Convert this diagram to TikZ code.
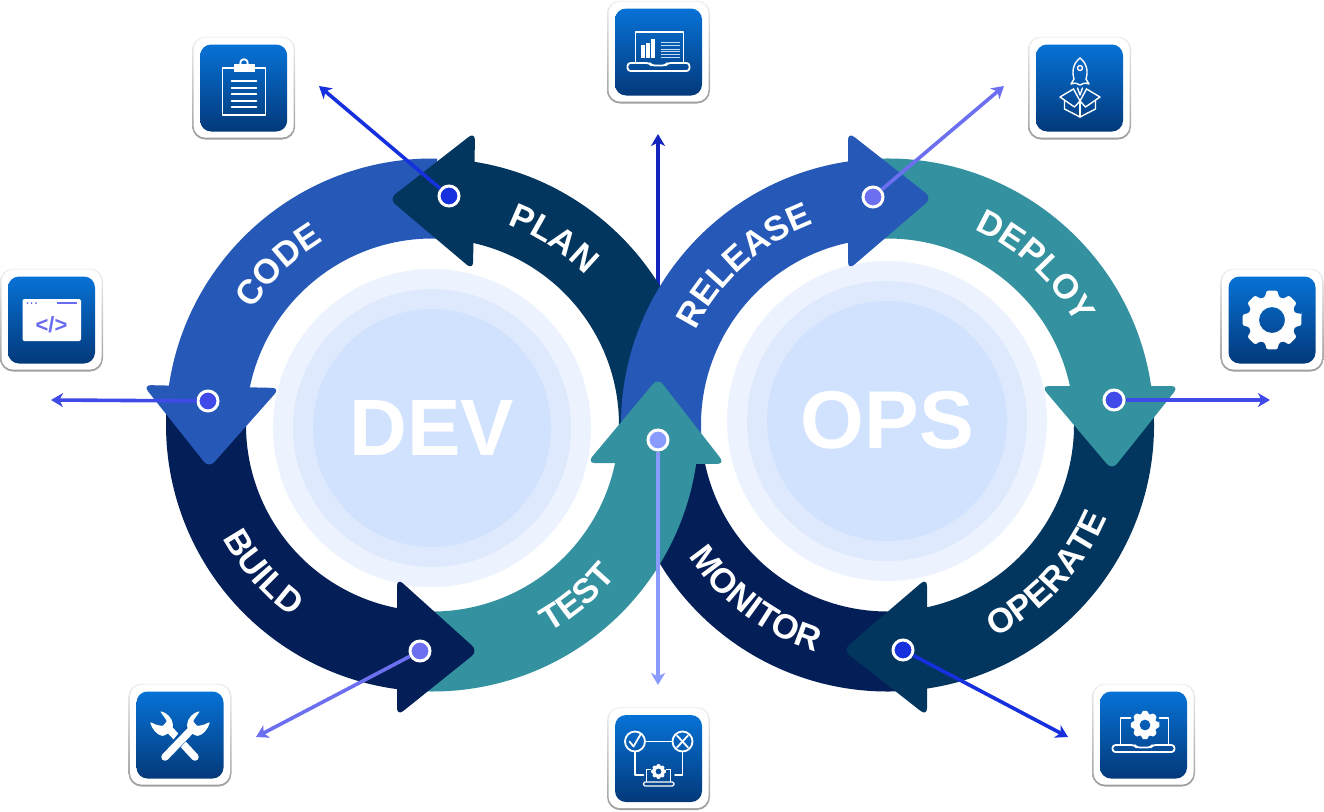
\documentclass[tikz,border=0pt]{standalone}
\usepackage{fontspec}
\setmainfont{Liberation Sans}
\usetikzlibrary{arrows.meta,decorations.text,calc}
\definecolor{cDark}{HTML}{03365F}
\definecolor{cBlue}{HTML}{2659B7}
\definecolor{cNavy}{HTML}{041F57}
\definecolor{cTeal}{HTML}{34919F}
\definecolor{cPaleA}{HTML}{EDF3FE}
\definecolor{cPaleB}{HTML}{DEE9FD}
\definecolor{cPaleC}{HTML}{D0E2FE}
\definecolor{aOne}{HTML}{1530DC}
\definecolor{aTwo}{HTML}{3F4AE8}
\definecolor{aThree}{HTML}{6B6FF0}
\definecolor{aFour}{HTML}{8A9BFF}
\definecolor{aTop}{HTML}{1424BE}
\definecolor{iconMid}{HTML}{0555A8}
\definecolor{iconViolet}{HTML}{6A6CF0}
\definecolor{cTop}{HTML}{0772D6}
\definecolor{cBot}{HTML}{03397A}
\tikzset{
  conn/.style={line width=3.6pt,-{Stealth[length=12pt,width=14pt,inset=3.5pt]}},
  dotn/.style={circle,draw=white,line width=3pt,minimum size=20pt,inner sep=0pt},
  outerbox/.style={rounded corners=13pt,minimum width=103pt,minimum height=103pt,inner sep=0pt,top color=black!6,bottom color=black!38},
  whitebox/.style={rounded corners=12pt,minimum width=100pt,minimum height=100pt,inner sep=0pt,fill=white},
  innerbox/.style={rounded corners=11pt,minimum width=87pt,minimum height=87pt,inner sep=0pt,top color=cTop,bottom color=cBot},
  ic/.style={draw=white,line width=1.8pt,line join=round,line cap=round},
  bandtext/.style={decorate,decoration={text along path,text align=center,
     text={|\fontsize{34.5pt}{34.5pt}\bfseries\color{white}|#1}}},
}
\newcommand{\bandseg}[5]{\fill[#5] ($(#1,#2)+(#3:266.5)$) arc[start angle=#3,end angle=#4,radius=266.5]
   -- ($(#1,#2)+(#4:186.5)$) arc[start angle=#4,end angle=#3,radius=186.5] -- cycle;}
\newcommand{\headseg}[4]{\fill[#4,rounded corners=8pt] #1 -- #2 -- #3 -- cycle;}
\newcommand{\ringword}[5]{\path[bandtext={#5}] ($(#1)+(#2:#4)$) arc[start angle=#2,end angle=#3,radius=#4];}
\newcommand{\iconbox}[3]{%
  \node[outerbox] (#1o) at (#2,#3) {};
  \node[whitebox] (#1w) at (#2,#3-0.3) {};
  \node[innerbox] (#1i) at (#2,#3) {};}
\newcommand{\gearfig}[4]{%
  \fill[white,even odd rule,rounded corners=0.08*#3 pt]
   ($(#1,#2)+(-13:#3)$)
   \foreach \ga in {0,45,...,315}{
     -- ($(#1,#2)+(\ga-11:#3)$) -- ($(#1,#2)+(\ga+11:#3)$)
     -- ($(#1,#2)+(\ga+16:0.8*#3)$) -- ($(#1,#2)+(\ga+29:0.8*#3)$)}
   -- cycle
   (#1,#2) circle[radius=#4];}
\newcommand{\laptopbase}[3]{%
  \draw[ic,rounded corners=3pt] (-#3,#1) -- (-9,#1) -- (-7,#1+2.5) -- (7,#1+2.5) -- (9,#1) -- (#3,#1) -- (#3,#2) -- (-#3,#2) -- cycle;}
\begin{document}
\begin{tikzpicture}[x=1pt,y=-1pt]
\useasboundingbox (0,0) rectangle (1324,811);
\fill[cPaleA] (432,428) circle[radius=159];
\fill[cPaleB] (432,428) circle[radius=139];
\fill[cPaleC] (432,428) circle[radius=119];
\fill[cPaleA] (887,421) circle[radius=160];
\fill[cPaleB] (887,421) circle[radius=140];
\fill[cPaleC] (887,421) circle[radius=120];
\node[font=\fontsize{80}{80}\selectfont\bfseries,white,inner sep=0pt] (devlabel) at (431.5,428) {DEV};
\node[font=\fontsize{82}{82}\selectfont\bfseries,white,inner sep=0pt] (opslabel) at (887.5,420) {OPS};
\coordinate (topstart) at (658,290);
\coordinate (topend) at (658,134);
\draw[conn,aTop] (topstart) -- (topend);
% ring
\bandseg{887.5}{425}{84}{175}{cNavy}
\bandseg{432.5}{425}{276}{362}{cDark}
\bandseg{887.5}{425}{-4}{84}{cDark}
\headseg{(843,650)}{(927,578)}{(927,716)}{cDark}
\bandseg{887.5}{425}{265}{354}{cTeal}
\headseg{(1112,470)}{(1041,386)}{(1179,386)}{cTeal}
\bandseg{887.5}{425}{175}{264}{cBlue}
\headseg{(932,198)}{(848,132)}{(848,270)}{cBlue}
\bandseg{432.5}{425}{186}{271}{cBlue}
\headseg{(389,199)}{(475,132)}{(473,270)}{cDark}
\bandseg{432.5}{425}{93}{184}{cNavy}
\headseg{(209,468)}{(143,385)}{(280,388)}{cBlue}
\bandseg{432.5}{425}{5}{96}{cTeal}
\headseg{(478,651)}{(397,578)}{(397,716)}{cNavy}
\headseg{(658,378)}{(587,463)}{(725,464)}{cTeal}
% words
\ringword{432.5,425}{263}{343}{214}{PLAN}
\ringword{432.5,425}{186}{266}{214}{CODE}
\ringword{432.5,425}{179}{99}{238}{BUILD}
\ringword{432.5,425}{90}{10}{238}{TEST}
\ringword{887.5,425}{188}{268}{214}{RELEASE}
\ringword{887.5,425}{273}{353}{214}{DEPLOY}
\ringword{887.5,425}{83}{3}{238}{OPERATE}
\ringword{887.5,425}{167}{87}{238}{MONITOR}
% connectors and dots
\coordinate (planend) at (319,86);
\coordinate (codeend) at (51,400);
\coordinate (buildend) at (256,737);
\coordinate (testend) at (658,685);
\coordinate (releaseend) at (1004,86);
\coordinate (deployend) at (1270,400);
\coordinate (operateend) at (1068,737);
\node[dotn,fill=aOne] (plandot) at (449,196) {};
\node[dotn,fill=aTwo] (codedot) at (208,401) {};
\node[dotn,fill=aThree] (builddot) at (420,651) {};
\node[dotn,fill=aFour] (testdot) at (658,440) {};
\node[dotn,fill=aThree] (releasedot) at (873,197) {};
\node[dotn,fill=aTwo] (deploydot) at (1114,400) {};
\node[dotn,fill=aOne] (operatedot) at (903,650) {};
\draw[conn,aOne] (plandot) -- (planend);
\draw[conn,aTwo] (codedot) -- (codeend);
\draw[conn,aThree] (builddot) -- (buildend);
\draw[conn,aFour] (testdot) -- (testend);
\draw[conn,aThree] (releasedot) -- (releaseend);
\draw[conn,aTwo] (deploydot) -- (deployend);
\draw[conn,aOne] (operatedot) -- (operateend);
% icon boxes
\iconbox{plan}{243.7}{88}
\iconbox{lap}{658.5}{52}
\iconbox{rocket}{1079.5}{88}
\iconbox{gear}{1272}{320}
\iconbox{opgear}{1143.5}{735}
\iconbox{check}{658.5}{758.5}
\iconbox{wrench}{180}{735}
\iconbox{code}{51.5}{320}
% clipboard
\begin{scope}[shift={(243.5,88)}]
  \draw[ic,line cap=butt] (-21,-20) rectangle (22,27);
  \fill[white] (-10,-24) rectangle (11,-16);
  \draw[ic] (0.5,-25) circle[radius=3.8];
  \foreach \ly in {-7,0,6,13,19}{\draw[ic] (-12,\ly) -- (13,\ly);}
\end{scope}
% laptop chart
\begin{scope}[shift={(658.5,52)}]
  \draw[ic] (-23,10) -- (-23,-20) -- (25,-20) -- (25,10);
  \laptopbase{11}{19}{31}
  \fill[white] (-18,-7) rectangle (-13.5,6);
  \fill[white] (-12.5,-9.5) rectangle (-8.5,6);
  \fill[white] (-7.5,-13) rectangle (-3.5,6);
  \foreach \ly in {-10,-7,-3,-0.3,2.3,5}{\draw[white!75!cTop,line width=1pt] (2,\ly) -- (21,\ly);}
\end{scope}
% rocket and parcel
\begin{scope}[shift={(1079.5,88)}]
  \draw[ic,line width=1.4pt] (0.5,-30) .. controls (-6,-25) and (-8,-17) .. (-5.5,-9) -- (-8.5,-4) .. controls (-4,-6) and (-2,-4) .. (0.5,-3) .. controls (3,-4) and (5,-6) .. (9.5,-4) -- (6.5,-9) .. controls (9,-17) and (7,-25) .. (0.5,-30) -- cycle;
  \draw[ic,line width=1.4pt] (0.5,-20) circle[radius=2.5];
  \draw[ic,line width=1.4pt] (-2,0) -- (0.5,7) -- (3,0);
  \draw[ic,line width=1.4pt] (-6,1) -- (-19.5,9) -- (-5,19) -- (0.5,13) -- (6,19) -- (20.5,9) -- (7,1);
  \draw[ic,line width=1.4pt] (-6,1) -- (0.5,13) -- (7,1);
  \draw[ic,line width=1.4pt] (-15,13) -- (-15,21) -- (0.5,29) -- (16,21) -- (16,13);
  \draw[ic,line width=1.4pt] (0.5,13) -- (0.5,29);
\end{scope}
\gearfig{1272}{320}{30}{13}
% laptop with gear
\begin{scope}[shift={(1143.5,735)}]
  \draw[ic] (-23,10) -- (-23,-17) -- (-13,-17);
  \draw[ic] (16,-17) -- (25,-17) -- (25,10);
  \laptopbase{10}{17}{31}
  \gearfig{1.5}{-10}{14.5}{5.5}
\end{scope}
% pass/fail
\begin{scope}[shift={(658.5,758.5)}]
  \draw[ic] (-23.5,-17) circle[radius=10];
  \draw[ic] (24,-17) circle[radius=10];
  \draw[ic] (-13.5,-17) -- (14,-17);
  \draw[ic] (-23.5,-7) -- (-23.5,16.5) -- (-15,16.5);
  \draw[ic] (24,-7) -- (24,16.5) -- (16.5,16.5);
  \draw[ic] (-29,-17) -- (-25,-12) -- (-18,-24);
  \draw[ic] (18.5,-23) -- (29.5,-11);
  \draw[ic] (18.5,-11) -- (29.5,-23);
  \draw[ic,line width=1.2pt] (-12,23) -- (-12,11) -- (-8,11);
  \draw[ic,line width=1.2pt] (8,11) -- (12,11) -- (12,23);
  \draw[ic,line width=1.2pt,rounded corners=1.5pt] (-15,23.5) -- (15.5,23.5) -- (15.5,27.5) -- (-15,27.5) -- cycle;
  \gearfig{0}{13}{7.5}{3}
\end{scope}
% crossed wrenches
\begin{scope}[shift={(180,735)}]
  \fill[white,rounded corners=1pt] (-20,-24) .. controls (-13,-22) and (-8,-18) .. (-7,-9) -- (-9,-3) -- (-17,1) .. controls (-23,0) and (-28,-6) .. (-30,-13) -- (-23,-10) -- (-17,-9) -- (-13,-14) -- cycle;
  \draw[white,line width=7.5pt,line cap=round] (-11,-6) -- (15,22);
  \draw[iconMid,line width=10.5pt] (-10,17) -- (9,-6);
  \fill[white,rounded corners=1pt] (20,-24) .. controls (13,-22) and (8,-18) .. (7,-9) -- (9,-3) -- (17,1) .. controls (23,0) and (28,-6) .. (30,-13) -- (23,-10) -- (17,-9) -- (13,-14) -- cycle;
  \draw[white,line width=7.5pt,line cap=round] (12,-6) -- (-15,22);
\end{scope}
% code window
\begin{scope}[shift={(51.5,320)}]
  \fill[white,rounded corners=2pt] (-29,-21) rectangle (29.5,21);
  \fill[iconViolet] (-24,-17) circle[radius=1] (-20,-17) circle[radius=1] (-15.5,-17) circle[radius=1];
  \draw[iconViolet,line width=1.6pt] (5,-17) -- (25,-17);
  \node[font=\fontsize{22}{22}\selectfont\bfseries,text=iconViolet,inner sep=0pt] (codesign) at (0,5) {</>};
\end{scope}
\end{tikzpicture}
\end{document}
